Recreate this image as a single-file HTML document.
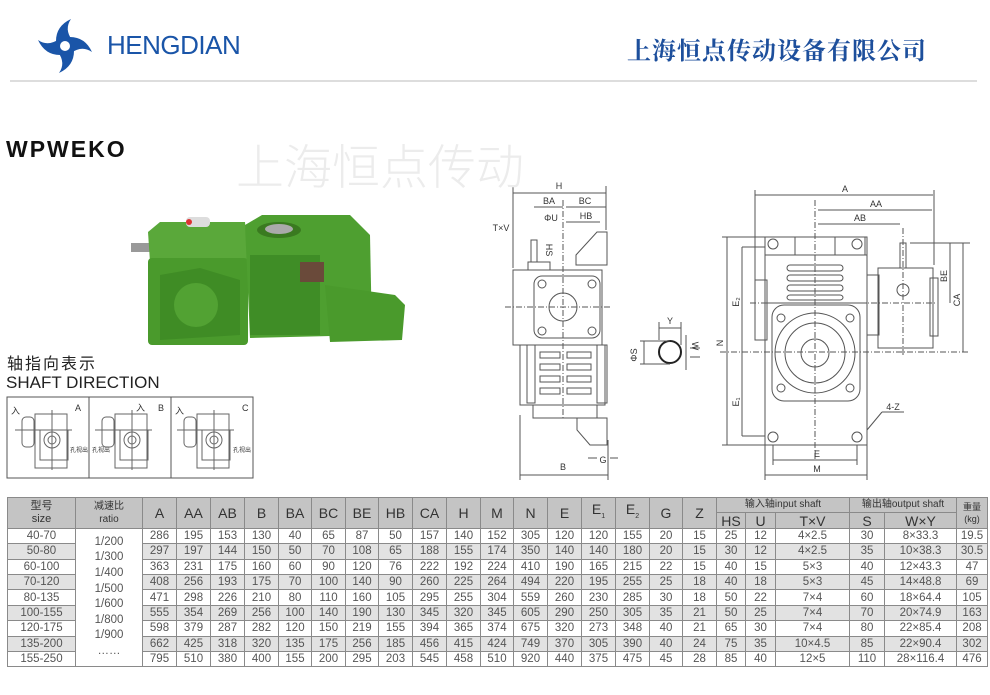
<!DOCTYPE html>
<html><head><meta charset="utf-8">
<style>
body{margin:0;width:990px;height:695px;background:#fff;position:relative;overflow:hidden;font-family:"Liberation Sans","Noto Sans CJK SC",sans-serif}
.abs{position:absolute}
table{border-collapse:collapse;table-layout:fixed}
td{border:1px solid #8a8a8a;text-align:center;color:#555;font-size:11.5px;padding:0;height:14.4px;line-height:14px;white-space:nowrap;overflow:hidden}
tr.h td{background:#c4c4c4;color:#333;font-size:14px}
tr.g td{background:#e2e2e2}
td.w{background:#fff!important}
</style></head><body>
<svg class="abs" style="left:0;top:0" width="990" height="695" viewBox="0 0 990 695" font-family="Liberation Sans, sans-serif">
<g transform="translate(65,46)" fill="#1a55a8">
<g id="bl"><path d="M-9,-5 Q-9,-20 6,-27 Q-1,-17 7,-6 Z"/></g>
<use href="#bl" transform="rotate(90)"/><use href="#bl" transform="rotate(180)"/><use href="#bl" transform="rotate(270)"/>
<circle r="10"/><circle r="5" fill="#fff"/>
</g>
<line x1="10" y1="81" x2="977" y2="81" stroke="#ddd" stroke-width="2"/>
<g>
<rect x="131" y="243" width="20" height="9" fill="#999"/>
<path d="M148,232 L160,222 L245,222 L248,260 L150,262 Z" fill="#5aa83a"/>
<rect x="148" y="258" width="100" height="87" rx="4" fill="#4a9a2c"/>
<path d="M160,275 L200,268 L240,280 L240,335 L160,340 Z" fill="#3f8c25"/>
<circle cx="196" cy="305" r="22" fill="#52a233"/>
<rect x="186" y="217" width="24" height="10" rx="4" fill="#ddd"/><circle cx="189" cy="222" r="3" fill="#d33"/>
<path d="M245,225 L262,215 L350,215 L370,235 L372,335 L250,338 Z" fill="#4e9f30"/>
<ellipse cx="279" cy="230" rx="22" ry="8" fill="#3a7a20"/><ellipse cx="279" cy="229" rx="14" ry="5" fill="#aaa"/>
<rect x="250" y="255" width="70" height="80" fill="#3f8d26"/>
<rect x="300" y="262" width="24" height="20" fill="#6a4a3a"/>
<path d="M325,285 L395,295 L405,305 L402,340 L330,342 Z" fill="#4a9a2c"/>
</g>
<g stroke="#666" fill="none" stroke-width="1">
<rect x="7" y="397" width="246" height="81" stroke="#555"/>
<line x1="89" y1="397" x2="89" y2="478" stroke="#555"/><line x1="171" y1="397" x2="171" y2="478" stroke="#555"/>
<g id="sd"><rect x="35" y="414" width="32" height="54"/><rect x="40" y="430" width="28" height="30"/><circle cx="52" cy="440" r="8"/><circle cx="52" cy="440" r="4"/><rect x="22" y="417" width="12" height="30" rx="4"/><line x1="15" y1="430" x2="72" y2="430"/><line x1="52" y1="410" x2="52" y2="470"/></g>
<use href="#sd" transform="translate(80,0)"/><use href="#sd" transform="translate(162,0)"/>
</g>
<g font-size="9" fill="#333"><text x="75" y="411">A</text><text x="158" y="411">B</text><text x="242" y="411">C</text><text x="11" y="414" font-family="Noto Sans CJK SC">入</text><text x="136" y="411" font-family="Noto Sans CJK SC">入</text><text x="175" y="414" font-family="Noto Sans CJK SC">入</text>
<text x="70" y="452" font-size="6" font-family="Noto Sans CJK SC">孔视出</text><text x="92" y="452" font-size="6" font-family="Noto Sans CJK SC">孔视出</text><text x="233" y="452" font-size="6" font-family="Noto Sans CJK SC">孔视出</text></g>
<g stroke="#555" fill="none" stroke-width="1">
<rect x="513" y="270" width="89" height="75"/><rect x="534" y="276" width="66" height="62" rx="8"/><circle cx="563" cy="307" r="14"/>
<circle cx="542" cy="284" r="4"/><circle cx="592" cy="284" r="4"/><circle cx="542" cy="331" r="4"/><circle cx="592" cy="331" r="4"/>
<rect x="520" y="345" width="85" height="60"/><rect x="527" y="345" width="8" height="58"/><rect x="597" y="345" width="10" height="58"/>
<rect x="540" y="352" width="20" height="6"/><rect x="540" y="364" width="20" height="6"/><rect x="540" y="376" width="20" height="6"/><rect x="540" y="388" width="20" height="6"/>
<rect x="567" y="352" width="24" height="6"/><rect x="567" y="364" width="24" height="6"/><rect x="567" y="376" width="24" height="6"/><rect x="567" y="388" width="24" height="6"/>
<rect x="533" y="405" width="64" height="13"/><path d="M577,418 L607,418 L607,445 L590,445 L577,430 Z"/>
<path d="M576,265 L576,255 L597,232 L607,232 L607,265 Z"/><rect x="528" y="262" width="22" height="8"/><rect x="531" y="240" width="6" height="22"/>
<line x1="505" y1="307" x2="612" y2="307" stroke-dasharray="6,2,1,2"/><line x1="563" y1="200" x2="563" y2="420" stroke-dasharray="6,2,1,2"/>
<line x1="513" y1="186" x2="513" y2="268"/><line x1="606" y1="186" x2="606" y2="230"/>
<line x1="513" y1="193" x2="606" y2="193"/><line x1="534" y1="207" x2="563" y2="207"/><line x1="566" y1="207" x2="606" y2="207"/><line x1="566" y1="222" x2="600" y2="222"/>
<line x1="520" y1="415" x2="520" y2="480"/><line x1="608" y1="440" x2="608" y2="480"/><line x1="520" y1="475" x2="608" y2="475"/>
<line x1="588" y1="458" x2="597" y2="458"/><line x1="610" y1="458" x2="618" y2="458"/>
<circle cx="670" cy="352" r="11" stroke="#222" stroke-width="2"/><line x1="659" y1="328" x2="681" y2="328"/><line x1="659" y1="322" x2="659" y2="340"/><line x1="681" y1="322" x2="681" y2="345"/>
<line x1="640" y1="341" x2="670" y2="341"/><line x1="640" y1="364" x2="670" y2="364"/><line x1="644" y1="341" x2="644" y2="364"/>
<line x1="686" y1="335" x2="686" y2="370"/><line x1="690" y1="348" x2="700" y2="348"/><line x1="690" y1="357" x2="700" y2="357"/>
<rect x="765" y="237" width="102" height="208"/><rect x="765" y="237" width="30" height="18"/><rect x="835" y="237" width="30" height="18"/>
<circle cx="773" cy="244" r="5"/><circle cx="857" cy="244" r="5"/><circle cx="773" cy="437" r="5"/><circle cx="857" cy="437" r="5"/>
<rect x="765" y="255" width="102" height="48"/>
<rect x="787" y="265" width="56" height="6" rx="3"/><rect x="787" y="275" width="56" height="6" rx="3"/><rect x="787" y="285" width="56" height="6" rx="3"/><rect x="787" y="295" width="56" height="5" rx="3"/>
<rect x="772" y="305" width="88" height="96" rx="12"/><circle cx="815" cy="353" r="40"/><circle cx="815" cy="353" r="30"/><circle cx="815" cy="353" r="14"/>
<circle cx="781" cy="318" r="4"/><circle cx="850" cy="318" r="4"/><circle cx="781" cy="388" r="4"/><circle cx="850" cy="388" r="4"/>
<rect x="755" y="280" width="12" height="60"/><rect x="867" y="275" width="12" height="60"/>
<rect x="878" y="268" width="55" height="80"/><rect x="930" y="278" width="8" height="58"/><rect x="900" y="243" width="6" height="25"/><circle cx="903" cy="290" r="6"/>
<line x1="720" y1="352" x2="970" y2="352" stroke-dasharray="6,2,1,2"/><line x1="815" y1="200" x2="815" y2="460" stroke-dasharray="6,2,1,2"/><line x1="750" y1="303" x2="935" y2="303" stroke-dasharray="6,2,1,2"/><line x1="903" y1="228" x2="903" y2="355" stroke-dasharray="6,2,1,2"/>
<line x1="755" y1="190" x2="755" y2="280"/><line x1="934" y1="190" x2="934" y2="265"/><line x1="755" y1="195" x2="933" y2="195"/><line x1="818" y1="210" x2="932" y2="210"/><line x1="818" y1="224" x2="900" y2="224"/>
<line x1="722" y1="237" x2="765" y2="237"/><line x1="722" y1="445" x2="765" y2="445"/><line x1="727" y1="237" x2="727" y2="445"/>
<line x1="742" y1="247" x2="742" y2="436"/><line x1="742" y1="247" x2="765" y2="247"/><line x1="742" y1="436" x2="765" y2="436"/>
<line x1="910" y1="243" x2="970" y2="243"/><line x1="950" y1="243" x2="950" y2="303"/><line x1="963" y1="243" x2="963" y2="352"/>
<line x1="773" y1="445" x2="773" y2="465"/><line x1="857" y1="445" x2="857" y2="465"/><line x1="773" y1="460" x2="857" y2="460"/>
<line x1="765" y1="445" x2="765" y2="480"/><line x1="867" y1="445" x2="867" y2="480"/><line x1="765" y1="475" x2="867" y2="475"/>
<line x1="867" y1="430" x2="882" y2="412"/><line x1="882" y1="412" x2="904" y2="412"/>
</g>
<g font-size="9" fill="#333" text-anchor="middle">
<text x="559" y="189">H</text><text x="549" y="204">BA</text><text x="585" y="204">BC</text><text x="586" y="219">HB</text><text x="551" y="221">ΦU</text><text x="501" y="231">T×V</text><text x="546" y="250" transform="rotate(90 546 250)">HS</text><text x="563" y="470">B</text><text x="603" y="463">G</text>
<text x="670" y="324">Y</text><text x="637" y="355" transform="rotate(-90 637 355)">ΦS</text><text x="692" y="346" transform="rotate(90 692 346)">W</text>
<text x="845" y="192">A</text><text x="876" y="207">AA</text><text x="860" y="221">AB</text><text x="723" y="343" transform="rotate(-90 723 343)">N</text><text x="739" y="302" transform="rotate(-90 739 302)">E₂</text><text x="739" y="402" transform="rotate(-90 739 402)">E₁</text>
<text x="947" y="276" transform="rotate(-90 947 276)">BE</text><text x="960" y="300" transform="rotate(-90 960 300)">CA</text><text x="893" y="410">4-Z</text><text x="817" y="457">E</text><text x="817" y="472">M</text>
</g>
</svg>
<div class="abs" style="left:107px;top:30px;font-size:26px;color:#1a55a8;letter-spacing:-0.5px">HENGDIAN</div>
<div class="abs" style="left:627px;top:31px;font-size:24px;color:#1d4f9c;font-weight:bold;font-family:'Noto Serif CJK SC',serif;letter-spacing:1px">上海恒点传动设备有限公司</div>
<div class="abs" style="left:6px;top:136px;font-size:23px;font-weight:bold;color:#111;letter-spacing:2px">WPWEKO</div>
<div class="abs" style="left:236px;top:128px;font-size:48px;color:#ececec;font-family:'Noto Sans CJK SC',sans-serif;font-weight:300">上海恒点传动</div>
<div class="abs" style="left:7px;top:353px;font-size:16px;color:#222;font-family:'Noto Sans CJK SC',sans-serif;line-height:18px;letter-spacing:2px">轴指向表示</div>
<div class="abs" style="left:6px;top:373px;font-size:17px;color:#222">SHAFT DIRECTION</div>
<table class="abs" style="left:7px;top:497px;width:980px">
<colgroup><col style="width:68px"><col style="width:67px"><col style="width:34px"><col style="width:34px"><col style="width:34px"><col style="width:34px"><col style="width:33px"><col style="width:34px"><col style="width:33px"><col style="width:34px"><col style="width:34px"><col style="width:34px"><col style="width:33px"><col style="width:34px"><col style="width:34px"><col style="width:34px"><col style="width:34px"><col style="width:33px"><col style="width:34px"><col style="width:29px"><col style="width:30px"><col style="width:74px"><col style="width:35px"><col style="width:72px"><col style="width:31px"></colgroup>
<tr class="h"><td rowspan="2" style="font-size:11px;line-height:13px">型号<br>size</td><td rowspan="2" style="font-size:10px;line-height:13px">减速比<br>ratio</td><td rowspan="2">A</td><td rowspan="2">AA</td><td rowspan="2">AB</td><td rowspan="2">B</td><td rowspan="2">BA</td><td rowspan="2">BC</td><td rowspan="2">BE</td><td rowspan="2">HB</td><td rowspan="2">CA</td><td rowspan="2">H</td><td rowspan="2">M</td><td rowspan="2">N</td><td rowspan="2">E</td><td rowspan="2">E<sub style="font-size:7px">1</sub></td><td rowspan="2">E<sub style="font-size:7px">2</sub></td><td rowspan="2">G</td><td rowspan="2">Z</td><td colspan="3" style="font-size:10px">输入轴input shaft</td><td colspan="2" style="font-size:10px">输出轴output shaft</td><td rowspan="2" style="font-size:9px;line-height:12px">重量<br>(kg)</td></tr>
<tr class="h"><td>HS</td><td>U</td><td>T×V</td><td>S</td><td>W×Y</td></tr>
<tr><td>40-70</td><td rowspan="9" class="w" style="line-height:15.6px;vertical-align:top;padding-top:6px">1/200<br>1/300<br>1/400<br>1/500<br>1/600<br>1/800<br>1/900<br>……</td><td>286</td><td>195</td><td>153</td><td>130</td><td>40</td><td>65</td><td>87</td><td>50</td><td>157</td><td>140</td><td>152</td><td>305</td><td>120</td><td>120</td><td>155</td><td>20</td><td>15</td><td>25</td><td>12</td><td>4×2.5</td><td>30</td><td>8×33.3</td><td>19.5</td></tr>
<tr class="g"><td>50-80</td><td>297</td><td>197</td><td>144</td><td>150</td><td>50</td><td>70</td><td>108</td><td>65</td><td>188</td><td>155</td><td>174</td><td>350</td><td>140</td><td>140</td><td>180</td><td>20</td><td>15</td><td>30</td><td>12</td><td>4×2.5</td><td>35</td><td>10×38.3</td><td>30.5</td></tr>
<tr><td>60-100</td><td>363</td><td>231</td><td>175</td><td>160</td><td>60</td><td>90</td><td>120</td><td>76</td><td>222</td><td>192</td><td>224</td><td>410</td><td>190</td><td>165</td><td>215</td><td>22</td><td>15</td><td>40</td><td>15</td><td>5×3</td><td>40</td><td>12×43.3</td><td>47</td></tr>
<tr class="g"><td>70-120</td><td>408</td><td>256</td><td>193</td><td>175</td><td>70</td><td>100</td><td>140</td><td>90</td><td>260</td><td>225</td><td>264</td><td>494</td><td>220</td><td>195</td><td>255</td><td>25</td><td>18</td><td>40</td><td>18</td><td>5×3</td><td>45</td><td>14×48.8</td><td>69</td></tr>
<tr><td>80-135</td><td>471</td><td>298</td><td>226</td><td>210</td><td>80</td><td>110</td><td>160</td><td>105</td><td>295</td><td>255</td><td>304</td><td>559</td><td>260</td><td>230</td><td>285</td><td>30</td><td>18</td><td>50</td><td>22</td><td>7×4</td><td>60</td><td>18×64.4</td><td>105</td></tr>
<tr class="g"><td>100-155</td><td>555</td><td>354</td><td>269</td><td>256</td><td>100</td><td>140</td><td>190</td><td>130</td><td>345</td><td>320</td><td>345</td><td>605</td><td>290</td><td>250</td><td>305</td><td>35</td><td>21</td><td>50</td><td>25</td><td>7×4</td><td>70</td><td>20×74.9</td><td>163</td></tr>
<tr><td>120-175</td><td>598</td><td>379</td><td>287</td><td>282</td><td>120</td><td>150</td><td>219</td><td>155</td><td>394</td><td>365</td><td>374</td><td>675</td><td>320</td><td>273</td><td>348</td><td>40</td><td>21</td><td>65</td><td>30</td><td>7×4</td><td>80</td><td>22×85.4</td><td>208</td></tr>
<tr class="g"><td>135-200</td><td>662</td><td>425</td><td>318</td><td>320</td><td>135</td><td>175</td><td>256</td><td>185</td><td>456</td><td>415</td><td>424</td><td>749</td><td>370</td><td>305</td><td>390</td><td>40</td><td>24</td><td>75</td><td>35</td><td>10×4.5</td><td>85</td><td>22×90.4</td><td>302</td></tr>
<tr><td>155-250</td><td>795</td><td>510</td><td>380</td><td>400</td><td>155</td><td>200</td><td>295</td><td>203</td><td>545</td><td>458</td><td>510</td><td>920</td><td>440</td><td>375</td><td>475</td><td>45</td><td>28</td><td>85</td><td>40</td><td>12×5</td><td>110</td><td>28×116.4</td><td>476</td></tr>
</table>
</body></html>
